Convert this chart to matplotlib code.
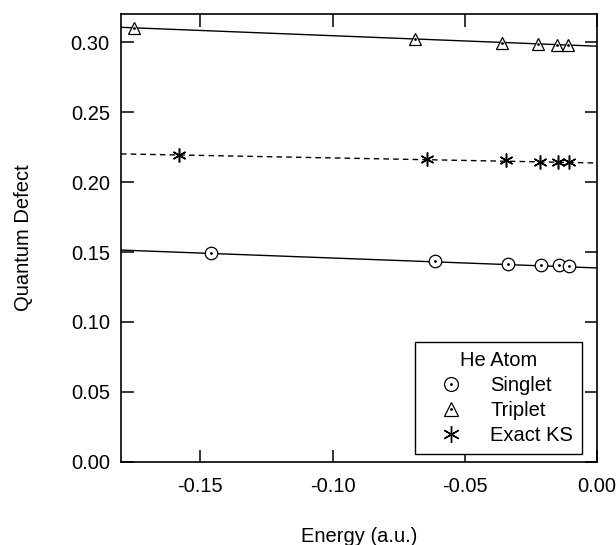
import matplotlib
matplotlib.use('Agg')
import matplotlib.pyplot as plt
from matplotlib.lines import Line2D
import numpy as np

plt.rcParams['font.family'] = ['Liberation Sans', 'DejaVu Sans']

# He atom S-series, energies (a.u.) and quantum defects
singlet_E = [-0.1458, -0.0613, -0.0336, -0.0212, -0.0146, -0.0107]
singlet_mu = [0.149, 0.1435, 0.1416, 0.1408, 0.1405, 0.1403]
triplet_E = [-0.1751, -0.0687, -0.0361, -0.0223, -0.0151, -0.0109]
triplet_mu = [0.3100, 0.3020, 0.2993, 0.2983, 0.2978, 0.2976]
ks_E = [-0.1580, -0.0642, -0.0344, -0.0215, -0.0148, -0.0108]
ks_mu = [0.2195, 0.2167, 0.2154, 0.2146, 0.2143, 0.2142]

# straight-line fits (slope, intercept)
singlet_fit = [-0.071, 0.1386]
triplet_fit = [-0.075, 0.2970]
ks_fit = [-0.036, 0.2136]

fs = 14.5

fig = plt.figure(figsize=(6.16, 5.45), dpi=100)
ax = fig.add_axes([0.1964, 0.1523, 0.7731, 0.8220])

xl = np.array([-0.18, 0.0])
ax.plot(xl, np.polyval(singlet_fit, xl), 'k-', lw=1.0)
ax.plot(xl, np.polyval(triplet_fit, xl), 'k-', lw=1.0)
ax.plot(xl, np.polyval(ks_fit, xl), 'k--', lw=1.0, dashes=(4, 3))

ms = 9
ax.plot(singlet_E, singlet_mu, 'o', mfc='white', mec='k', mew=0.9, ms=ms, zorder=3)
ax.plot(singlet_E, singlet_mu, '.', color='k', ms=2, zorder=4)
ax.plot(triplet_E, triplet_mu, '^', mfc='white', mec='k', mew=0.9, ms=ms, zorder=3)
ax.plot(triplet_E, triplet_mu, '.', color='k', ms=2, zorder=4)
ax.plot(ks_E, ks_mu, marker=(6, 2, 0), ls='none', color='k', mew=1.1, ms=ms + 1, zorder=3)

ax.set_xlim(-0.18, 0.0)
ax.set_ylim(0.0, 0.32)
ax.set_xticks([-0.15, -0.10, -0.05, 0.00])
ax.set_xticklabels(['-0.15', '-0.10', '-0.05', '0.00'])
ax.set_yticks([0.00, 0.05, 0.10, 0.15, 0.20, 0.25, 0.30])
ax.set_yticklabels(['%.2f' % v for v in [0.00, 0.05, 0.10, 0.15, 0.20, 0.25, 0.30]])
ax.tick_params(direction='in', length=9, width=1.1, top=True, right=True,
               labelsize=fs)
ax.tick_params(axis='x', pad=11)
ax.tick_params(axis='y', pad=8)
for s in ax.spines.values():
    s.set_linewidth(1.2)

ax.set_xlabel('Energy (a.u.)', fontsize=fs, labelpad=22)
ax.set_ylabel('Quantum Defect', fontsize=fs, labelpad=27)

h_s = (Line2D([], [], marker='o', ls='none', mfc='white', mec='k', mew=0.9, ms=10),
       Line2D([], [], marker='.', ls='none', color='k', ms=2))
h_t = (Line2D([], [], marker='^', ls='none', mfc='white', mec='k', mew=0.9, ms=10),
       Line2D([], [], marker='.', ls='none', color='k', ms=2))
h_k = Line2D([], [], marker=(6, 2, 0), ls='none', color='k', mew=1.0, ms=12)
leg = ax.legend([h_s, h_t, h_k], ['Singlet', 'Triplet', 'Exact KS'],
                title='He Atom', loc='lower right', bbox_to_anchor=(0.968, 0.018),
                fontsize=fs, title_fontsize=fs, fancybox=False, framealpha=1,
                edgecolor='k', borderpad=0.45, labelspacing=0.3, handletextpad=0.6,
                handlelength=2.7, borderaxespad=0.0)
leg.get_frame().set_linewidth(1.0)

fig.savefig('out.png', dpi=100)
